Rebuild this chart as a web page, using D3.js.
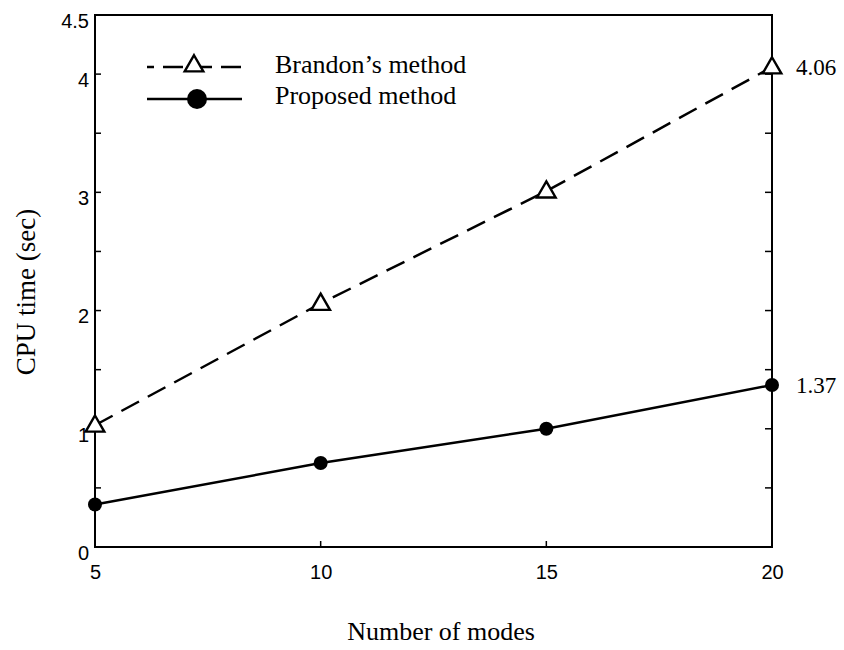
<!DOCTYPE html>
<html>
<head>
<meta charset="utf-8">
<title>CPU time</title>
<script src="https://cdn.jsdelivr.net/npm/d3@7"></script>
<style>
  body { margin: 0; background: #fff; }
  .tick text { font-family: "Liberation Sans", Arial, sans-serif; font-size: 20px; fill: #000; }
  .serif { font-family: "Liberation Serif", "Times New Roman", serif; fill: #000; }
</style>
</head>
<body>
<script>
// data
var modes = [5, 10, 15, 20];
var brandon = [1.03, 2.06, 3.01, 4.06];
var proposed = [0.36, 0.71, 1.0, 1.37];
var yLabelTicks = [0, 1, 2, 3, 4, 4.5];
var yMinorTicks = [0.5, 1, 1.5, 2, 2.5, 3, 3.5, 4];

var width = 844, height = 650;
var margin = {top: 15, left: 95, right: 72, bottom: 103};

var svg = d3.select("body").append("svg")
    .attr("width", width)
    .attr("height", height);

var x = d3.scaleLinear().domain([5, 20]).range([margin.left, width - margin.right]);
var y = d3.scaleLinear().domain([0, 4.5]).range([height - margin.bottom, margin.top]);

// frame: left, bottom, top, right
var g = svg.append("g");
g.append("line").attr("x1", x(5)).attr("x2", x(5)).attr("y1", y(0)).attr("y2", y(4.5));
g.append("line").attr("x1", x(5)).attr("x2", x(20)).attr("y1", y(0)).attr("y2", y(0));
g.append("line").attr("x1", x(5)).attr("x2", x(20)).attr("y1", y(4.5)).attr("y2", y(4.5));
g.append("line").attr("x1", x(20)).attr("x2", x(20)).attr("y1", y(0)).attr("y2", y(4.5));
g.selectAll("line").attr("stroke", "#000").attr("stroke-width", 2).attr("stroke-linecap", "square");

// left axis - labels only, ticks drawn inside
var yAxis = d3.axisLeft(y).tickValues(yLabelTicks).tickSize(0).tickPadding(6)
    .tickFormat(function (d) { return d; });
svg.append("g").attr("transform", "translate(" + x(5) + ",0)").call(yAxis)
    .call(function (s) {
        s.select(".domain").remove();
        s.selectAll(".tick text").attr("dy", "0.62em");
    });

// inner ticks on left and right
svg.append("g").selectAll("line.l").data(yMinorTicks).enter().append("line")
    .attr("x1", x(5)).attr("x2", x(5) + 6)
    .attr("y1", function (d) { return y(d); }).attr("y2", function (d) { return y(d); })
    .attr("stroke", "#000").attr("stroke-width", 1.5);
svg.append("g").selectAll("line.r").data(yMinorTicks).enter().append("line")
    .attr("x1", x(20)).attr("x2", x(20) - 7)
    .attr("y1", function (d) { return y(d); }).attr("y2", function (d) { return y(d); })
    .attr("stroke", "#000").attr("stroke-width", 1.5);

// bottom axis
var xAxis = d3.axisBottom(x).tickValues(modes).tickSize(0).tickPadding(18);
svg.append("g").attr("transform", "translate(0," + y(0) + ")").call(xAxis)
    .call(function (s) { s.select(".domain").remove(); });
svg.append("g").selectAll("line").data(modes.slice(1, 3)).enter().append("line")
    .attr("x1", function (d) { return x(d); }).attr("x2", function (d) { return x(d); })
    .attr("y1", y(0)).attr("y2", y(0) - 6)
    .attr("stroke", "#000").attr("stroke-width", 1.5);

// axis titles
svg.append("text").attr("class", "serif")
    .attr("x", 441).attr("y", 640)
    .attr("text-anchor", "middle").attr("font-size", 26)
    .text("Number of modes");
svg.append("text").attr("class", "serif")
    .attr("transform", "translate(35,292) rotate(-90)")
    .attr("text-anchor", "middle").attr("font-size", 27)
    .text("CPU time (sec)");

// lines
var line = d3.line().x(function (d) { return x(d[0]); }).y(function (d) { return y(d[1]); });
var bData = modes.map(function (m, i) { return [m, brandon[i]]; });
var pData = modes.map(function (m, i) { return [m, proposed[i]]; });

svg.append("path").datum(bData).attr("d", line)
    .attr("fill", "none").attr("stroke", "#000").attr("stroke-width", 2.5)
    .attr("stroke-dasharray", "20,10");
svg.append("path").datum(pData).attr("d", line)
    .attr("fill", "none").attr("stroke", "#000").attr("stroke-width", 2.5);

var tri = d3.symbol().type(d3.symbolTriangle).size(150);
function drawTri(sel) {
    sel.append("path").attr("d", tri)
        .attr("fill", "#fff").attr("stroke", "#000").attr("stroke-width", 2.4);
}
svg.append("g").selectAll("g").data(bData).enter().append("g")
    .attr("transform", function (d) { return "translate(" + x(d[0]) + "," + (y(d[1]) + 1) + ")"; })
    .call(drawTri);
svg.append("g").selectAll("circle").data(pData).enter().append("circle")
    .attr("cx", function (d) { return x(d[0]); })
    .attr("cy", function (d) { return y(d[1]); })
    .attr("r", 7).attr("fill", "#000");

// end value labels
svg.append("text").attr("class", "serif").attr("font-size", 23)
    .attr("x", x(20) + 24).attr("y", y(brandon[3]) + 8).text(brandon[3].toFixed(2));
svg.append("text").attr("class", "serif").attr("font-size", 23)
    .attr("x", x(20) + 24).attr("y", y(proposed[3]) + 8).text(proposed[3].toFixed(2));

// legend
var leg = svg.append("g");
leg.append("line").attr("x1", 147).attr("x2", 242).attr("y1", 67).attr("y2", 67)
    .attr("stroke", "#000").attr("stroke-width", 2.5)
    .attr("stroke-dasharray", "20,9").attr("stroke-dashoffset", 13);
leg.append("g").attr("transform", "translate(194,66)").call(drawTri);
leg.append("line").attr("x1", 147).attr("x2", 242).attr("y1", 99).attr("y2", 99)
    .attr("stroke", "#000").attr("stroke-width", 2.5);
leg.append("circle").attr("cx", 197).attr("cy", 99).attr("r", 10).attr("fill", "#000");
leg.append("text").attr("class", "serif").attr("font-size", 26)
    .attr("x", 275).attr("y", 73).text("Brandon\u2019s method");
leg.append("text").attr("class", "serif").attr("font-size", 26)
    .attr("x", 275).attr("y", 104).text("Proposed method");
</script>
</body>
</html>
